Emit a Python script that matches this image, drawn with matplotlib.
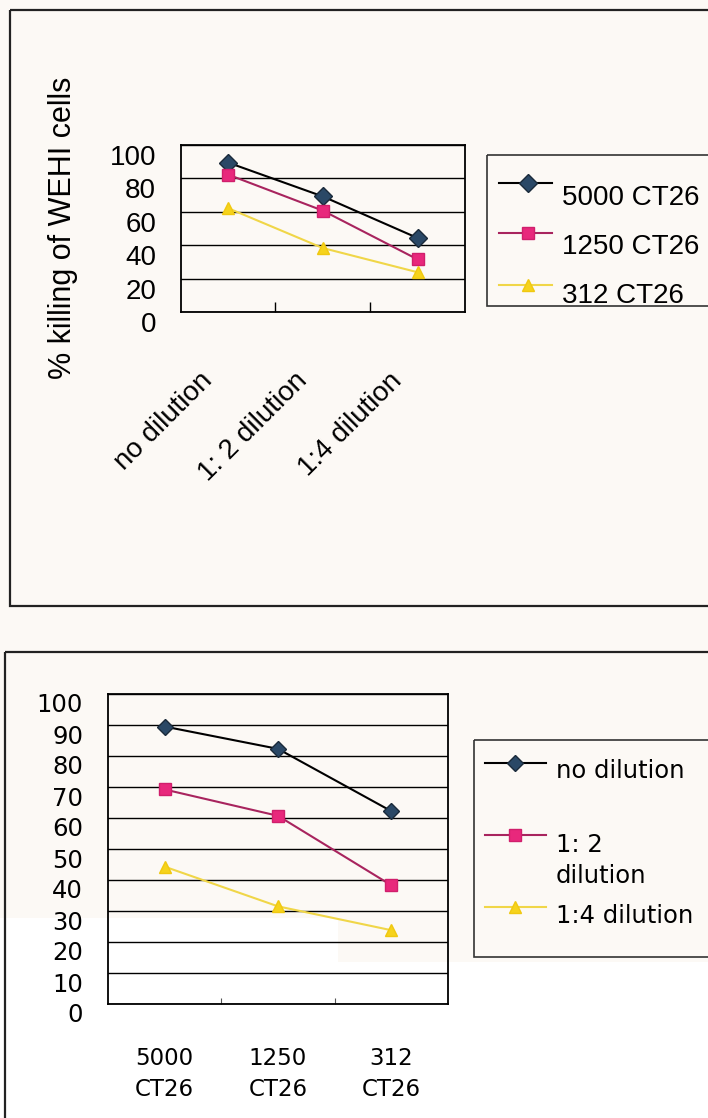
import matplotlib
matplotlib.use("Agg")
import matplotlib.pyplot as plt
from matplotlib.transforms import ScaledTranslation
from matplotlib.patches import Rectangle
from matplotlib.lines import Line2D

# % killing of WEHI cells, by number of CT26 cells and supernatant dilution
dilutions = ["no dilution", "1: 2 dilution", "1:4 dilution"]
ct26_counts = ["5000 CT26", "1250 CT26", "312 CT26"]
kill_5000 = [89.5, 69.2, 44.3]
kill_1250 = [82.3, 60.7, 31.5]
kill_312 = [62.2, 38.3, 23.8]
y_ticks_top = [0, 20, 40, 60, 80, 100]
y_ticks_bottom = [0, 10, 20, 30, 40, 50, 60, 70, 80, 90, 100]

W, H = 708, 1118
CREAM = "#fcf9f5"
plt.rcParams["font.family"] = ["Liberation Sans", "DejaVu Sans"]

styles = [
    dict(color="black", marker="D", mfc="#2a4866", mec="#1a2a3a"),
    dict(color="#a8245e", marker="s", mfc="#e8287c", mec="#d01f6c"),
    dict(color="#f0d648", marker="^", mfc="#f6d31c", mec="#f0c810"),
]

fig = plt.figure(figsize=(W / 100, H / 100), dpi=100, facecolor=CREAM)


def box(l, t, r, b):
    return [l / W, 1 - b / H, (r - l) / W, (b - t) / H]


# background layer in pixel coordinates: panels and legends
bg = fig.add_axes([0, 0, 1, 1], zorder=0)
bg.set_xlim(0, W)
bg.set_ylim(H, 0)
bg.axis("off")
bg.add_patch(Rectangle((0, 918), 338, 200, fc="white", ec="none"))
bg.add_patch(Rectangle((338, 962), 380, 160, fc="white", ec="none"))
bg.add_patch(Rectangle((9.5, 10), 720, 596, fill=False, ec="#222222", lw=1.6))
bg.add_patch(Rectangle((5, 652), 720, 520, fill=False, ec="#222222", lw=1.6))

# ---------------- top chart: series per CT26 count ----------------
ax1 = fig.add_axes(box(180.6, 145, 465, 312), zorder=1)
ax1.set_facecolor("none")
xs = list(range(len(dilutions)))
for vals, st in zip([kill_5000, kill_1250, kill_312], styles):
    ax1.plot(xs, vals, lw=1.5, ms=9, **st)
ax1.set_xlim(-0.5, 2.5)
ax1.set_ylim(0, 100)
ax1.set_yticks(y_ticks_top)
ax1.yaxis.grid(True, color="black", lw=1.0)
ax1.set_axisbelow(True)
for s in ax1.spines.values():
    s.set_color("black")
    s.set_linewidth(1.3)
ax1.tick_params(axis="y", length=0, pad=17.7, labelsize=20)
ax1.set_xticks(xs)
ax1.set_xticklabels(dilutions, rotation=45, ha="right", va="top",
                    rotation_mode="anchor", fontsize=20)
ax1.tick_params(axis="x", which="major", length=0, pad=40)
ax1.set_xticks([0.5, 1.5], minor=True)
ax1.tick_params(axis="x", which="minor", direction="in", length=7,
                width=1, color="black")
dy_top = ScaledTranslation(0, -0.10, fig.dpi_scale_trans)
for lbl in ax1.get_yticklabels():
    lbl.set_transform(lbl.get_transform() + dy_top)
dx_top = ScaledTranslation(-0.29, 0, fig.dpi_scale_trans)
for lbl in ax1.get_xticklabels():
    lbl.set_transform(lbl.get_transform() + dx_top)

fig.text(63 / W, 1 - 228 / H, "% killing of WEHI cells", rotation=90,
         ha="center", va="center", fontsize=22)

# top legend
bg.add_patch(Rectangle((487, 155), 260, 151, fill=False, ec="#333333", lw=1.2))
for lab, ly, base, st in zip(ct26_counts, [183, 233, 285], [205, 254, 303], styles):
    bg.add_line(Line2D([499, 552], [ly, ly], color=st["color"], lw=1.5))
    bg.plot([528], [ly], ls="none", marker=st["marker"], mfc=st["mfc"],
            mec=st["mec"], ms=9)
    bg.text(562, base, lab, va="baseline", ha="left", fontsize=20)

# ---------------- bottom chart: series per dilution ----------------
ax2 = fig.add_axes(box(108, 694, 448, 1004), zorder=1)
ax2.set_facecolor("none")
by_dilution = list(zip(kill_5000, kill_1250, kill_312))
xs2 = list(range(len(ct26_counts)))
for vals, st in zip(by_dilution, styles):
    ax2.plot(xs2, vals, lw=1.5, ms=8.5, **st)
ax2.set_xlim(-0.5, 2.5)
ax2.set_ylim(0, 100)
ax2.set_yticks(y_ticks_bottom)
ax2.yaxis.grid(True, color="black", lw=1.0)
ax2.set_axisbelow(True)
for s in ax2.spines.values():
    s.set_color("black")
    s.set_linewidth(1.3)
ax2.tick_params(axis="y", length=0, pad=18, labelsize=17.5)
ax2.set_xticks(xs2)
ax2.set_xticklabels([c.replace(" ", "\n") for c in ct26_counts],
                    fontsize=16.5, linespacing=1.45)
ax2.tick_params(axis="x", which="major", length=0, pad=31)
ax2.set_xticks([0.5, 1.5], minor=True)
ax2.tick_params(axis="x", which="minor", direction="in", length=4.5,
                width=0.8, color="#555555")
for lbl in ax2.get_xticklabels() + ax2.get_yticklabels():
    lbl.set_fontfamily("DejaVu Sans")
dy_bot = ScaledTranslation(0, -0.09, fig.dpi_scale_trans)
for lbl in ax2.get_yticklabels():
    lbl.set_transform(lbl.get_transform() + dy_bot)

# bottom legend
bg.add_patch(Rectangle((474, 740), 260, 217, fill=False, ec="#333333", lw=1.2))
legend_rows = [("no dilution", 763, [(778, "no dilution")]),
               ("1: 2 dilution", 835, [(852, "1: 2"), (883, "dilution")]),
               ("1:4 dilution", 907, [(923, "1:4 dilution")])]
for (name, ly, lines), st in zip(legend_rows, styles):
    bg.add_line(Line2D([485, 546], [ly, ly], color=st["color"], lw=1.5))
    bg.plot([515], [ly], ls="none", marker=st["marker"], mfc=st["mfc"],
            mec=st["mec"], ms=8.5)
    for base, txt in lines:
        bg.text(556, base, txt, va="baseline", ha="left", fontsize=17.5,
                family="DejaVu Sans")

fig.savefig("out.png", dpi=100, facecolor=CREAM)
